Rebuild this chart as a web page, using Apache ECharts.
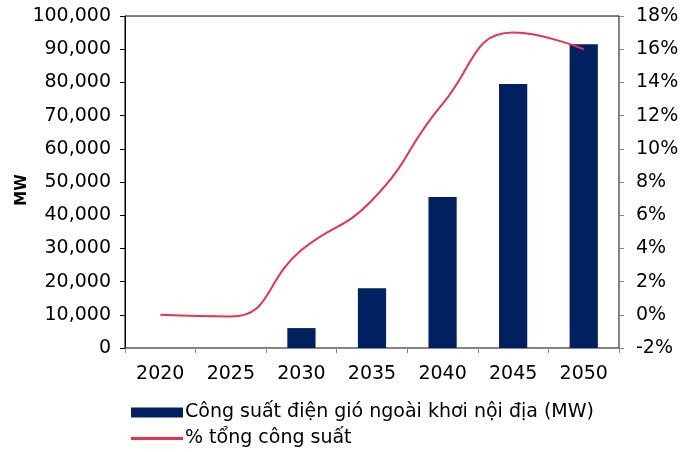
<!DOCTYPE html>
<html>
<head>
<meta charset="utf-8">
<script src="https://cdn.jsdelivr.net/npm/echarts@6/dist/echarts.min.js"></script>
<style>
  html, body { margin: 0; padding: 0; background: #fff; }
  #chart { width: 694px; height: 452px; }
</style>
</head>
<body>
<div id="chart"></div>
<script>
// dữ liệu
var years = ['2020', '2025', '2030', '2035', '2040', '2045', '2050'];
var capacityMW = [0, 0, 6000, 18000, 45500, 79500, 91500];
var sharePct = [0, -0.1, 3.9, 6.9, 12.7, 17.0, 16.0];
var barName = 'Công suất điện gió ngoài khơi nội địa (MW)';
var lineName = '% tổng công suất';
var leftAxisName = 'MW';

var font = '"DejaVu Sans", sans-serif';
var barColor = '#002060';
var lineColor = '#E8334F';
var chart = echarts.init(document.getElementById('chart'));

var legendText = { fontFamily: font, fontSize: 19, color: '#000', padding: [0, 0, 0, -3] };

var option = {
  backgroundColor: '#fff',
  animation: false,
  textStyle: { fontFamily: font, color: '#000' },
  grid: {
    left: 125,
    right: 75,
    top: 16,
    bottom: 104,
    show: true,
    borderColor: '#000',
    borderWidth: 1
  },
  // tên trục trái, xoay dọc
  graphic: [{
    type: 'text',
    x: 22,
    y: 190,
    rotation: Math.PI / 2,
    style: {
      text: leftAxisName,
      fontFamily: font,
      fontSize: 15,
      fontWeight: 'bold',
      fill: '#000',
      align: 'center',
      verticalAlign: 'middle'
    }
  }],
  legend: [{
    left: 126,
    top: 398,
    itemWidth: 52,
    itemHeight: 10,
    textStyle: legendText,
    data: [{ name: barName, icon: 'rect' }]
  }, {
    left: 126,
    top: 424,
    itemWidth: 52,
    itemHeight: 3,
    textStyle: legendText,
    data: [{ name: lineName, icon: 'rect' }]
  }],
  xAxis: {
    type: 'category',
    data: years,
    boundaryGap: true,
    axisLine: { lineStyle: { color: '#888', width: 1 } },
    axisTick: { show: true, length: 5, lineStyle: { color: '#888' } },
    axisLabel: { fontFamily: font, fontSize: 19, color: '#000', margin: 17 }
  },
  yAxis: [{
    type: 'value',
    min: 0,
    max: 100000,
    interval: 10000,
    axisLine: { show: true, lineStyle: { color: '#000' } },
    axisTick: { show: true, length: 5, lineStyle: { color: '#000' } },
    splitLine: { show: false },
    axisLabel: {
      fontFamily: font, fontSize: 19, color: '#000', margin: 14,
      formatter: function (v) { return v.toLocaleString('en-US'); }
    }
  }, {
    type: 'value',
    min: -2,
    max: 18,
    interval: 2,
    position: 'right',
    axisLine: { show: true, lineStyle: { color: '#888' } },
    axisTick: { show: true, length: 5, lineStyle: { color: '#888' } },
    splitLine: { show: false },
    axisLabel: { fontFamily: font, fontSize: 19, color: '#000', margin: 17, formatter: '{value}%' }
  }],
  series: [{
    name: barName,
    type: 'bar',
    data: capacityMW,
    barWidth: '40%',
    itemStyle: { color: barColor }
  }, {
    name: lineName,
    type: 'line',
    yAxisIndex: 1,
    data: sharePct,
    smooth: 0.5,
    symbol: 'none',
    lineStyle: { color: lineColor, width: 2 },
    itemStyle: { color: lineColor }
  }]
};
chart.setOption(option);
</script>
</body>
</html>
